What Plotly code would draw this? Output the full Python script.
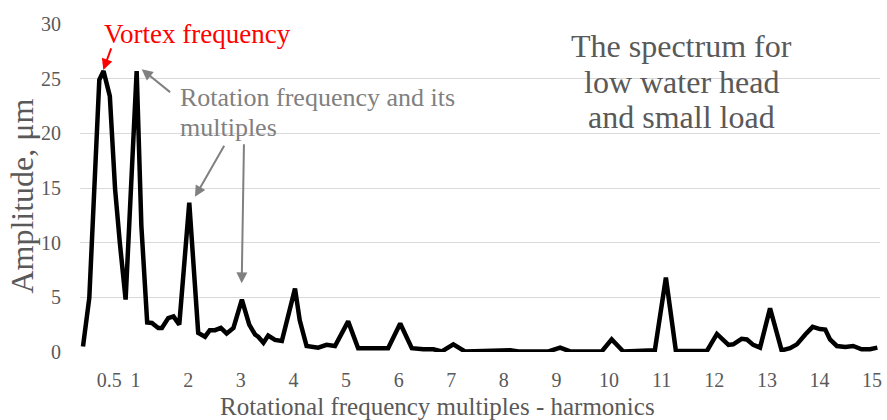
import plotly.graph_objects as go

harmonic = [0.0, 0.12, 0.31, 0.39, 0.51, 0.61, 0.70, 0.81, 1.02, 1.11, 1.22, 1.31, 1.43, 1.50,
            1.62, 1.72, 1.83, 2.02, 2.19, 2.32, 2.41, 2.51, 2.62, 2.73, 2.86, 3.02, 3.16, 3.27,
            3.33, 3.43, 3.52, 3.65, 3.78, 4.03, 4.12, 4.25, 4.47, 4.63, 4.79, 5.04, 5.23, 5.52,
            5.65, 5.80, 6.03, 6.25, 6.47, 6.66, 6.82, 7.04, 7.26, 7.90, 8.12, 8.28, 8.85, 9.07,
            9.26, 9.86, 10.05, 10.27, 10.59, 10.87, 11.08, 11.27, 11.86, 12.05, 12.27, 12.36,
            12.52, 12.62, 12.74, 12.87, 13.06, 13.28, 13.44, 13.57, 13.73, 13.87, 14.01, 14.11,
            14.20, 14.33, 14.49, 14.64, 14.80, 14.96, 15.10]
amplitude = [0.5, 4.95, 24.9, 25.7, 23.4, 14.9, 10.0, 4.8, 25.7, 11.5, 2.7, 2.65, 2.2, 2.2,
             3.1, 3.25, 2.5, 13.65, 1.75, 1.4, 2.0, 2.0, 2.2, 1.7, 2.2, 4.8, 2.5, 1.6,
             1.4, 0.85, 1.5, 1.1, 1.0, 5.8, 2.9, 0.55, 0.4, 0.65, 0.55, 2.8, 0.35, 0.35,
             0.45, 0.35, 2.6, 0.35, 0.25, 0.25, 0.05, 0.7, 0.05, 0.15, 0.17, 0.05, 0.05, 0.4,
             0.05, 0.05, 1.15, 0.05, 0.1, 0.15, 6.8, 0.1, 0.1, 1.65, 0.65, 0.7,
             1.2, 1.15, 0.65, 0.4, 4.0, 0.15, 0.35, 0.7, 1.6, 2.3, 2.1, 2.05,
             1.15, 0.55, 0.45, 0.55, 0.25, 0.25, 0.4]

x_tick_vals = [0.5, 1, 2, 3, 4, 5, 6, 7, 8, 9, 10, 11, 12, 13, 14, 15]
x_tick_text = ["0.5", "1", "2", "3", "4", "5", "6", "7", "8", "9", "10", "11", "12", "13", "14", "15"]
y_tick_vals = [0, 5, 10, 15, 20, 25, 30]

FONT = '"Liberation Serif", "Times New Roman", "DejaVu Serif", serif'
GRAY = "#595959"
ARROW_GRAY = "#808080"

fig = go.Figure()
fig.add_trace(go.Scatter(x=harmonic, y=amplitude, mode="lines",
                         line=dict(color="black", width=4.5), showlegend=False,
                         hoverinfo="skip"))

fig.update_layout(
    width=887, height=420,
    margin=dict(l=80, r=7, t=24, b=68),
    plot_bgcolor="white", paper_bgcolor="white",
    font=dict(family=FONT, color=GRAY, size=20),
    xaxis=dict(range=[-0.057, 15.15], tickvals=x_tick_vals, ticktext=x_tick_text,
               showgrid=False, zeroline=False, showline=False, ticks="", automargin=False,
               tickfont=dict(size=20, color=GRAY, family=FONT), ticklabelstandoff=14),
    yaxis=dict(range=[0, 30], tickvals=y_tick_vals, showgrid=True, gridcolor="#d9d9d9",
               gridwidth=1, zeroline=False, showline=False, ticks="", automargin=False,
               tickfont=dict(size=20, color=GRAY, family=FONT), ticklabelstandoff=18),
)

annotations = [
    dict(text="Rotational frequency multiples - harmonics", xref="paper", yref="paper",
         x=0.447, y=-0.167, xanchor="center", yanchor="middle", showarrow=False,
         font=dict(size=25, color=GRAY, family=FONT)),
    dict(text="Amplitude, μm", xref="paper", yref="paper", x=-0.072, y=0.475,
         xanchor="center", yanchor="middle", textangle=-90, showarrow=False,
         font=dict(size=32, color=GRAY, family=FONT)),
    dict(text="Vortex frequency", xref="x", yref="y", x=0.37, y=29.1,
         xanchor="left", yanchor="middle", showarrow=False,
         font=dict(size=27, color="#ff0000", family=FONT)),
]

rot_lines = [("Rotation frequency and its", 23.3), ("multiples", 20.5)]
for txt, yy in rot_lines:
    annotations.append(dict(text=txt, xref="x", yref="y", x=1.80, y=yy, xanchor="left",
                            yanchor="middle", showarrow=False,
                            font=dict(size=26, color=ARROW_GRAY, family=FONT)))

spec_lines = [("The spectrum for", 27.95), ("low water head", 24.7), ("and small load", 21.45)]
for txt, yy in spec_lines:
    annotations.append(dict(text=txt, xref="x", yref="y", x=11.37, y=yy, xanchor="center",
                            yanchor="middle", showarrow=False,
                            font=dict(size=32, color=GRAY, family=FONT)))

arrows = [
    (0.386, 25.8, 0.546, 27.9, "#ff0000"),
    (1.116, 25.86, 1.684, 23.66, ARROW_GRAY),
    (2.129, 14.2, 2.70, 19.0, ARROW_GRAY),
    (3.017, 6.28, 3.06, 19.14, ARROW_GRAY),
]
for tx, ty, sx, sy, col in arrows:
    annotations.append(dict(x=tx, y=ty, ax=sx, ay=sy, xref="x", yref="y", axref="x", ayref="y",
                            text="", showarrow=True, arrowhead=2, arrowsize=1.1,
                            arrowwidth=2, arrowcolor=col))

fig.update_layout(annotations=annotations)
fig.write_html("out.html", config={"displayModeBar": False},
               post_script="document.body.style.margin='0';")
